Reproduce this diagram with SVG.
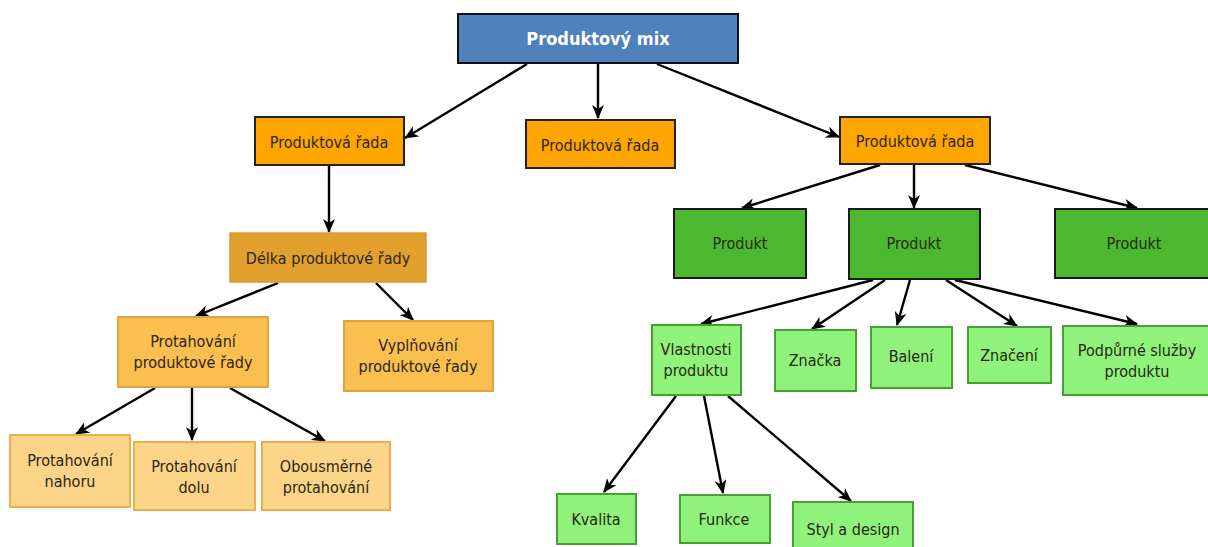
<svg xmlns="http://www.w3.org/2000/svg" width="1208" height="547" viewBox="0 0 1208 547">
  <style>
    text { font-family: "DejaVu Sans Condensed", "DejaVu Sans", sans-serif; font-stretch: condensed; font-size: 16px; fill: #2a2616; text-anchor: middle; }
    .title { font-size: 18px; font-weight: bold; fill: #fff; }
    .root { fill: #4F81BD; stroke: #111; stroke-width: 2; }
    .line { fill: #FFA500; stroke: #222; stroke-width: 2; }
    .len { fill: #E3A02E; stroke: #DB9A2A; stroke-width: 1.5; }
    .ext { fill: #FBBF4F; stroke: #E0A23C; stroke-width: 2; }
    .leaf { fill: #FCD488; stroke: #E8B04C; stroke-width: 2; }
    .prod { fill: #4CB830; stroke: #1a1a1a; stroke-width: 2; }
    .attr { fill: #8FF27A; stroke: #4A9E36; stroke-width: 2; }
    .conn line { stroke: #000; stroke-width: 2.4; marker-end: url(#arrow); }
  </style>
  <defs>
    <marker id="arrow" viewBox="0 0 14 12" refX="13" refY="6" markerWidth="14" markerHeight="12" orient="auto" markerUnits="userSpaceOnUse">
      <path d="M0,0 L14,6 L0,12 L4,6 z" fill="#000"/>
    </marker>
  </defs>
  <rect width="1208" height="547" fill="#fff"/>

  <!-- connectors -->
  <g id="connectors" class="conn">
    <line x1="527" y1="64" x2="405" y2="138"/>
    <line x1="598" y1="64" x2="598" y2="118"/>
    <line x1="657" y1="64" x2="839" y2="137"/>
    <line x1="329" y1="166" x2="329" y2="232"/>
    <line x1="278" y1="283" x2="196" y2="316"/>
    <line x1="376" y1="283" x2="413" y2="320"/>
    <line x1="155" y1="388" x2="76" y2="434"/>
    <line x1="192" y1="388" x2="192" y2="440"/>
    <line x1="230" y1="388" x2="325" y2="441"/>
    <line x1="880" y1="165" x2="742" y2="208"/>
    <line x1="914" y1="165" x2="914" y2="208"/>
    <line x1="965" y1="165" x2="1137" y2="208"/>
    <line x1="873" y1="280" x2="701" y2="324"/>
    <line x1="885" y1="280" x2="812" y2="329"/>
    <line x1="910" y1="280" x2="897" y2="325"/>
    <line x1="946" y1="280" x2="1017" y2="326"/>
    <line x1="955" y1="280" x2="1137" y2="324"/>
    <line x1="676" y1="396" x2="604" y2="492"/>
    <line x1="704" y1="396" x2="723" y2="493"/>
    <line x1="728" y1="396" x2="851" y2="501"/>
  </g>

  <g id="produktovy-mix">
    <rect class="root" x="458" y="14" width="280" height="49"/>
    <text class="title" x="598" y="45">Produktový mix</text>
  </g>

  <g id="rada-1">
    <rect class="line" x="255" y="117" width="149" height="48"/>
    <text x="329" y="148">Produktová řada</text>
  </g>
  <g id="rada-2">
    <rect class="line" x="526" y="120" width="149" height="48"/>
    <text x="600" y="151">Produktová řada</text>
  </g>
  <g id="rada-3">
    <rect class="line" x="840" y="117" width="150" height="47"/>
    <text x="915" y="147">Produktová řada</text>
  </g>

  <g id="delka">
    <rect class="len" x="230" y="233" width="196" height="49"/>
    <text x="328" y="264">Délka produktové řady</text>
  </g>

  <g id="protahovani">
    <rect class="ext" x="118" y="317" width="150" height="70"/>
    <text x="193" y="347">Protahování</text>
    <text x="193" y="368">produktové řady</text>
  </g>
  <g id="vyplnovani">
    <rect class="ext" x="344" y="321" width="149" height="70"/>
    <text x="418" y="351">Vyplňování</text>
    <text x="418" y="372">produktové řady</text>
  </g>

  <g id="nahoru">
    <rect class="leaf" x="10" y="435" width="120" height="72"/>
    <text x="70" y="466">Protahování</text>
    <text x="70" y="487">nahoru</text>
  </g>
  <g id="dolu">
    <rect class="leaf" x="134" y="442" width="121" height="68"/>
    <text x="194" y="472">Protahování</text>
    <text x="194" y="493">dolu</text>
  </g>
  <g id="obousmerne">
    <rect class="leaf" x="262" y="442" width="128" height="68"/>
    <text x="326" y="472">Obousměrné</text>
    <text x="326" y="493">protahování</text>
  </g>

  <g id="produkt-1">
    <rect class="prod" x="674" y="209" width="132" height="69"/>
    <text x="740" y="249">Produkt</text>
  </g>
  <g id="produkt-2">
    <rect class="prod" x="849" y="209" width="131" height="70"/>
    <text x="914" y="249">Produkt</text>
  </g>
  <g id="produkt-3">
    <rect class="prod" x="1055" y="209" width="160" height="69"/>
    <text x="1134" y="249">Produkt</text>
  </g>

  <g id="vlastnosti">
    <rect class="attr" x="652" y="325" width="89" height="70"/>
    <text x="696" y="355">Vlastnosti</text>
    <text x="696" y="376">produktu</text>
  </g>
  <g id="znacka">
    <rect class="attr" x="775" y="330" width="81" height="61"/>
    <text x="815" y="366">Značka</text>
  </g>
  <g id="baleni">
    <rect class="attr" x="871" y="327" width="81" height="61"/>
    <text x="911" y="362">Balení</text>
  </g>
  <g id="znaceni">
    <rect class="attr" x="968" y="327" width="83" height="56"/>
    <text x="1009" y="361">Značení</text>
  </g>
  <g id="podpurne">
    <rect class="attr" x="1063" y="326" width="155" height="69"/>
    <text x="1137" y="356">Podpůrné služby</text>
    <text x="1137" y="377">produktu</text>
  </g>

  <g id="kvalita">
    <rect class="attr" x="557" y="494" width="79" height="50"/>
    <text x="596" y="525">Kvalita</text>
  </g>
  <g id="funkce">
    <rect class="attr" x="680" y="495" width="90" height="48"/>
    <text x="724" y="525">Funkce</text>
  </g>
  <g id="styl">
    <rect class="attr" x="793" y="502" width="120" height="50"/>
    <text x="853" y="535">Styl a design</text>
  </g>
</svg>
